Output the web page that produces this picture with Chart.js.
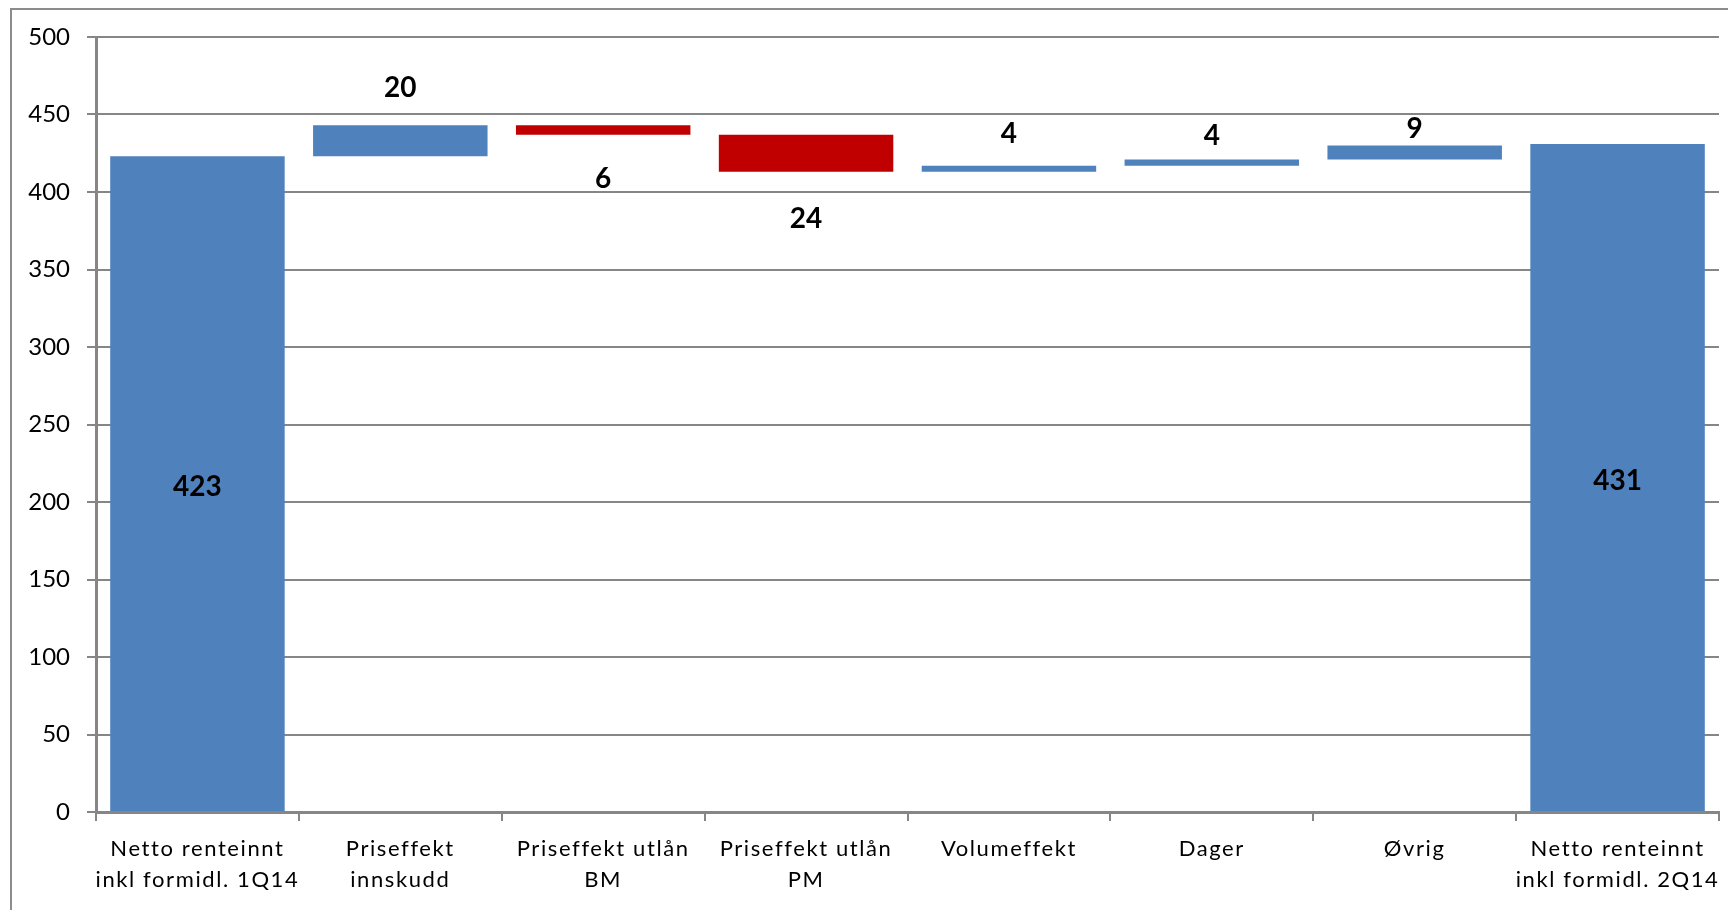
<!DOCTYPE html>
<html>
<head>
<meta charset="utf-8">
<script src="https://cdn.jsdelivr.net/npm/chart.js@4.4.1/dist/chart.umd.min.js"></script>
<style>
    html, body { margin: 0; padding: 0; background: #fff; }
    #wrap { position: relative; width: 1728px; height: 910px; }
</style>
</head>
<body>
<div id="wrap"><canvas id="waterfall" width="1728" height="910"></canvas></div>
<script>
const categories = [
    ['Netto renteinnt', 'inkl formidl. 1Q14'],
    ['Priseffekt', 'innskudd'],
    ['Priseffekt utlån', 'BM'],
    ['Priseffekt utlån', 'PM'],
    'Volumeffekt',
    'Dager',
    'Øvrig',
    ['Netto renteinnt', 'inkl formidl. 2Q14']
];
const barStart = [0, 423, 437, 413, 413, 417, 421, 0];
const barEnd = [423, 443, 443, 437, 417, 421, 430, 431];
const barLabels = ['423', '20', '6', '24', '4', '4', '9', '431'];
const barKind = ['total', 'up', 'down', 'down', 'up', 'up', 'up', 'total'];
const yTicks = [0, 50, 100, 150, 200, 250, 300, 350, 400, 450, 500];

const BLUE = '#4F81BD';
const RED = '#C00000';
const GRID = '#868686';

document.addEventListener('DOMContentLoaded', () => {
    const ctx = document.getElementById('waterfall').getContext('2d');

    // frame round the chart (only top and left are inside the picture)
    const framePlugin = {
        id: 'frame',
        beforeDraw(chart) {
            const c = chart.ctx;
            c.letterSpacing = '0px';
            c.save();
            c.strokeStyle = '#8c8c8c';
            c.lineWidth = 2;
            c.beginPath();
            c.moveTo(11, 910);
            c.lineTo(11, 9);
            c.lineTo(1728, 9);
            c.stroke();
            c.restore();
        },
        afterDraw(chart) {
            chart.ctx.letterSpacing = '0px';
        }
    };

    // value labels: inside totals, above rises, below falls
    const labelPlugin = {
        id: 'barValues',
        afterDatasetsDraw(chart, args, opts) {
            const c = chart.ctx;
            const meta = chart.getDatasetMeta(0);
            c.save();
            c.font = 'bold 28px Lato';
            c.fillStyle = '#000';
            c.textAlign = 'center';
            c.textBaseline = 'middle';
            meta.data.forEach((bar, i) => {
                const top = Math.min(bar.y, bar.base);
                const bottom = Math.max(bar.y, bar.base);
                let y;
                if (barKind[i] === 'total') y = (top + bottom) / 2;
                else if (barKind[i] === 'up') y = top - opts.offsets[i];
                else y = bottom + opts.offsets[i];
                c.fillText(barLabels[i], bar.x, y + 3);
            });
            c.restore();
            // the x tick labels are drawn after this (z: 1), spaced out like the original
            c.letterSpacing = '1.6px';
        }
    };

    new Chart(ctx, {
        type: 'bar',
        data: {
            labels: categories,
            datasets: [{
                data: barStart.map((s, i) => [s, barEnd[i]]),
                backgroundColor: barKind.map(k => k === 'down' ? RED : BLUE),
                borderWidth: 0,
                barPercentage: 0.86,
                categoryPercentage: 1
            }]
        },
        options: {
            responsive: false,
            devicePixelRatio: 1,
            animation: false,
            events: [],
            layout: {
                padding: { left: 20, top: 37, right: 9, bottom: 0 }
            },
            scales: {
                x: {
                    afterFit(scale) { scale.height = 98; },
                    grid: {
                        offset: true,
                        drawOnChartArea: false,
                        drawTicks: true,
                        tickLength: 9,
                        color: GRID,
                        lineWidth: 2
                    },
                    border: { color: GRID, width: 3 },
                    ticks: {
                        z: 1,
                        color: '#000',
                        padding: 12,
                        maxRotation: 0,
                        autoSkip: false,
                        font: { family: 'Lato', size: 22, lineHeight: 1.41 }
                    }
                },
                y: {
                    min: 0,
                    max: 500,
                    afterFit(scale) { scale.width = 76; },
                    afterBuildTicks(scale) { scale.ticks = yTicks.map(v => ({ value: v })); },
                    grid: {
                        color: GRID,
                        lineWidth: 2,
                        tickLength: 9
                    },
                    border: { color: GRID, width: 3 },
                    ticks: {
                        color: '#000',
                        padding: 17,
                        font: { family: 'Lato', size: 24 }
                    }
                }
            },
            plugins: {
                legend: { display: false },
                tooltip: { enabled: false },
                barValues: { offsets: [0, 40, 41, 44, 35, 26, 20, 0] }
            }
        },
        plugins: [framePlugin, labelPlugin]
    });
});
</script>
</body>
</html>
